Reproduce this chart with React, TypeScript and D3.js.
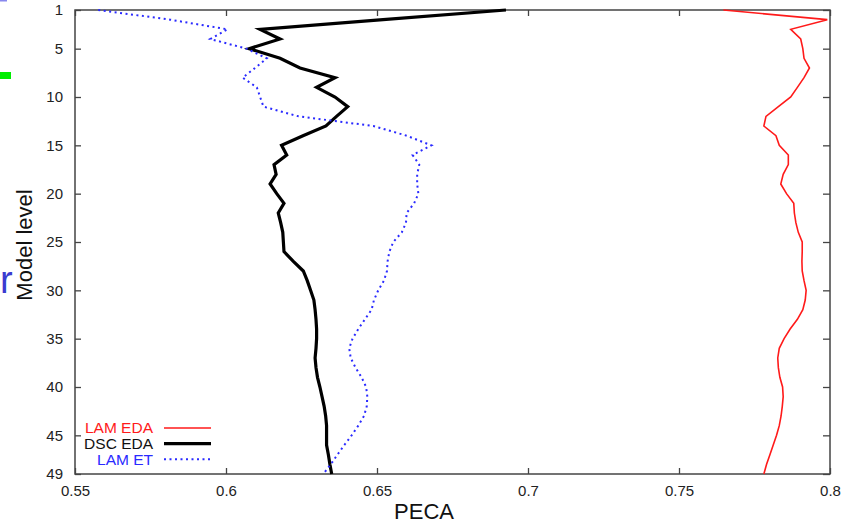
import React, { useEffect, useRef } from 'react';
import * as d3 from 'd3';

// model levels 1..49
const levels = d3.range(1, 50);

const lamEda = [
  0.7647, 0.7991, 0.787, 0.7903, 0.791, 0.7914, 0.7932, 0.7914, 0.7892, 0.787,
  0.7829, 0.7788, 0.7781, 0.7821, 0.7832, 0.7862, 0.7862, 0.7845, 0.7837, 0.7856,
  0.788, 0.7882, 0.7887, 0.7895, 0.7908, 0.7908, 0.7907, 0.7908, 0.7914, 0.7921,
  0.7918, 0.791, 0.7892, 0.7868, 0.7848, 0.7832, 0.7827, 0.7829, 0.7834, 0.7843,
  0.7845, 0.7842, 0.7838, 0.7832, 0.7823, 0.7812, 0.7801, 0.779, 0.7781,
];

const dscEda = [
  0.6927, 0.652, 0.6113, 0.6179, 0.6077, 0.6179, 0.6245, 0.6361, 0.630, 0.6361,
  0.6403, 0.6366, 0.6331, 0.6255, 0.6184, 0.6201, 0.6159, 0.6166, 0.6146, 0.6168,
  0.6192, 0.6173, 0.6181, 0.6188, 0.619, 0.6192, 0.6223, 0.6256, 0.6269, 0.628,
  0.6291, 0.6295, 0.6298, 0.630, 0.630, 0.6298, 0.6295, 0.6298, 0.6303, 0.6311,
  0.6318, 0.6325, 0.633, 0.6333, 0.6333, 0.6333, 0.6339, 0.6344, 0.635,
];

const lamEt = [
  0.5577, 0.5815, 0.6005, 0.5948, 0.6068, 0.6135, 0.6096, 0.6055, 0.6102, 0.6113,
  0.6124, 0.6240, 0.6488, 0.6598, 0.6680, 0.6618, 0.664, 0.6633, 0.6633, 0.6637,
  0.6623, 0.6598, 0.6596, 0.6582, 0.6554, 0.6541, 0.6535, 0.6533, 0.6523, 0.6504,
  0.6490, 0.6482, 0.646, 0.6438, 0.6419, 0.6408, 0.6413, 0.6429, 0.6449, 0.6464,
  0.6468, 0.6466, 0.6457, 0.6438, 0.6416, 0.6392, 0.6369, 0.6347, 0.6322,
];

const xTicks = [0.55, 0.6, 0.65, 0.7, 0.75, 0.8];
const xTickLabels = ['0.55', '0.6', '0.65', '0.7', '0.75', '0.8'];
const yTicks = [1, 5, 10, 15, 20, 25, 30, 35, 40, 45, 49];

const seriesNames = ['LAM EDA', 'DSC EDA', 'LAM ET'];

function App() {
  const ref = useRef<SVGSVGElement>(null);

  useEffect(() => {
    const width = 848;
    const height = 524;
    const left = 75, right = 830, top = 10, bottom = 474;
    const font = '"Liberation Sans", Arial, sans-serif';

    const svg = d3.select(ref.current)
      .attr('width', width)
      .attr('height', height);
    svg.selectAll('*').remove();

    // leftovers of the slide behind the plot
    svg.append('rect').attr('x', 0).attr('y', 0).attr('width', 7).attr('height', 1.5).attr('fill', '#8888ee');
    svg.append('rect').attr('x', 0).attr('y', 72).attr('width', 11).attr('height', 7).attr('fill', '#00ee00');
    svg.append('text').attr('x', 0).attr('y', 293).text('r')
      .style('font-family', font).style('font-size', '38px').attr('fill', '#3b3bd0');

    const x = d3.scaleLinear().domain([0.55, 0.8]).range([left, right]);
    const y = d3.scaleLinear().domain([1, 49]).range([top, bottom]);

    const axisColor = '#444';

    // bottom axis (ticks inward)
    const gx = svg.append('g').attr('transform', `translate(0,${bottom})`)
      .call(d3.axisBottom(x).tickValues(xTicks).tickSize(-6).tickPadding(11)
        .tickFormat((d, i) => xTickLabels[i]));
    // top mirror ticks
    const gxt = svg.append('g').attr('transform', `translate(0,${top})`)
      .call(d3.axisTop(x).tickValues(xTicks).tickSize(-6).tickFormat(() => ''));
    // left axis
    const gy = svg.append('g').attr('transform', `translate(${left},0)`)
      .call(d3.axisLeft(y).tickValues(yTicks).tickSize(-6).tickPadding(12));
    // right mirror ticks
    const gyr = svg.append('g').attr('transform', `translate(${right},0)`)
      .call(d3.axisRight(y).tickValues(yTicks).tickSize(-7).tickFormat(() => ''));

    [gx, gxt, gy, gyr].forEach(g => {
      g.select('.domain').remove();
      g.selectAll('line').attr('stroke', axisColor).attr('stroke-width', 1.3);
      g.selectAll('text').style('font-family', font).style('font-size', '15px').attr('fill', '#222');
    });

    svg.append('rect')
      .attr('x', left).attr('y', top)
      .attr('width', right - left).attr('height', bottom - top)
      .attr('fill', 'none').attr('stroke', axisColor).attr('stroke-width', 1.5);

    const line = d3.line<number>()
      .x(d => x(d))
      .y((d, i) => y(levels[i]));

    svg.append('path').attr('d', line(lamEda)).attr('fill', 'none')
      .attr('stroke', '#ff1a1a').attr('stroke-width', 1.6);
    svg.append('path').attr('d', line(dscEda)).attr('fill', 'none')
      .attr('stroke', '#000').attr('stroke-width', 3.2).attr('stroke-linejoin', 'miter');
    svg.append('path').attr('d', line(lamEt)).attr('fill', 'none')
      .attr('stroke', '#2a2aff').attr('stroke-width', 2).attr('stroke-dasharray', '2,3.5');

    // legend
    const legendStyles = [
      { color: '#ff1a1a', width: 1.6, dash: null, text: '#ff1a1a' },
      { color: '#000', width: 3.2, dash: null, text: '#111' },
      { color: '#2a2aff', width: 2, dash: '2,3.5', text: '#2a2aff' },
    ];
    const lg = svg.append('g');
    seriesNames.forEach((name, i) => {
      const ly = 428 + i * 15.6;
      const s = legendStyles[i];
      lg.append('text').attr('x', 153).attr('y', ly).attr('dy', '0.35em')
        .attr('text-anchor', 'end').text(name)
        .style('font-family', font).style('font-size', '15.5px').attr('fill', s.text);
      const l = lg.append('line').attr('x1', 164).attr('x2', 211).attr('y1', ly).attr('y2', ly)
        .attr('stroke', s.color).attr('stroke-width', s.width);
      if (s.dash) l.attr('stroke-dasharray', s.dash);
    });

    // axis titles
    svg.append('text').attr('x', 424).attr('y', 519).attr('text-anchor', 'middle').text('PECA')
      .style('font-family', font).style('font-size', '22px').attr('fill', '#111');
    svg.append('text').attr('transform', 'translate(32,245) rotate(-90)')
      .attr('text-anchor', 'middle').text('Model level')
      .style('font-family', font).style('font-size', '22px').attr('fill', '#111');
  }, []);

  return (
    <div style={{ position: 'absolute', left: 0, top: 0 }}>
      <svg ref={ref}></svg>
    </div>
  );
}

export default App;
